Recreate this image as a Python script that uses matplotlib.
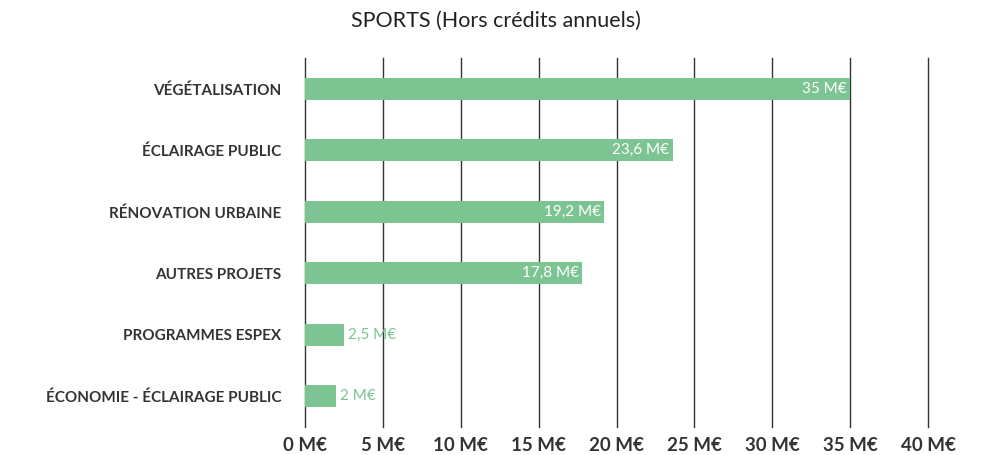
import matplotlib
matplotlib.use('Agg')
import matplotlib.pyplot as plt

# Données
categories = ['VÉGÉTALISATION', 'ÉCLAIRAGE PUBLIC', 'RÉNOVATION URBAINE',
              'AUTRES PROJETS', 'PROGRAMMES ESPEX', 'ÉCONOMIE - ÉCLAIRAGE PUBLIC']
valeurs = [35, 23.6, 19.2, 17.8, 2.5, 2]
etiquettes = ['35 M€', '23,6 M€', '19,2 M€', '17,8 M€', '2,5 M€', '2 M€']
ticks = [0, 5, 10, 15, 20, 25, 30, 35, 40]
tick_labels = ['%d M€' % t for t in ticks]

vert = '#7DC493'
plt.rcParams['font.family'] = ['Lato', 'DejaVu Sans']

fig = plt.figure(figsize=(9.98, 4.55), dpi=100)
ax = fig.add_axes([0.3056, 0.0615, 0.6243, 0.811])

y = list(range(len(categories)))
ax.barh(y, valeurs, height=0.36, color=vert, zorder=2)

for i, (v, lab) in enumerate(zip(valeurs, etiquettes)):
    if v > 10:
        ax.text(v - 0.2, i, lab, ha='right', va='center', color='white', fontsize=11, zorder=3)
    else:
        ax.text(v + 0.25, i, lab, ha='left', va='center', color=vert, fontsize=11, zorder=3)

ax.set_xlim(0, 40)
ax.set_ylim(len(categories) - 0.5, -0.5)
ax.set_xticks(ticks)
ax.set_xticklabels(tick_labels, fontsize=13.5, fontweight='bold', color='#333333')
ax.set_yticks(y)
ax.set_yticklabels(categories, fontsize=11, fontweight='bold', color='#333333')
ax.tick_params(axis='both', length=0)
ax.tick_params(axis='y', pad=17)
ax.tick_params(axis='x', pad=7)
ax.grid(axis='x', color='#333333', linewidth=1, zorder=0)
for gl in ax.get_xgridlines():
    gl.set_clip_on(False)
for s in ax.spines.values():
    s.set_visible(False)

fig.text(0.497, 0.955, 'SPORTS (Hors crédits annuels)', ha='center', va='center',
         fontsize=15.5, color='#222222')

fig.savefig('out.png', dpi=100)
